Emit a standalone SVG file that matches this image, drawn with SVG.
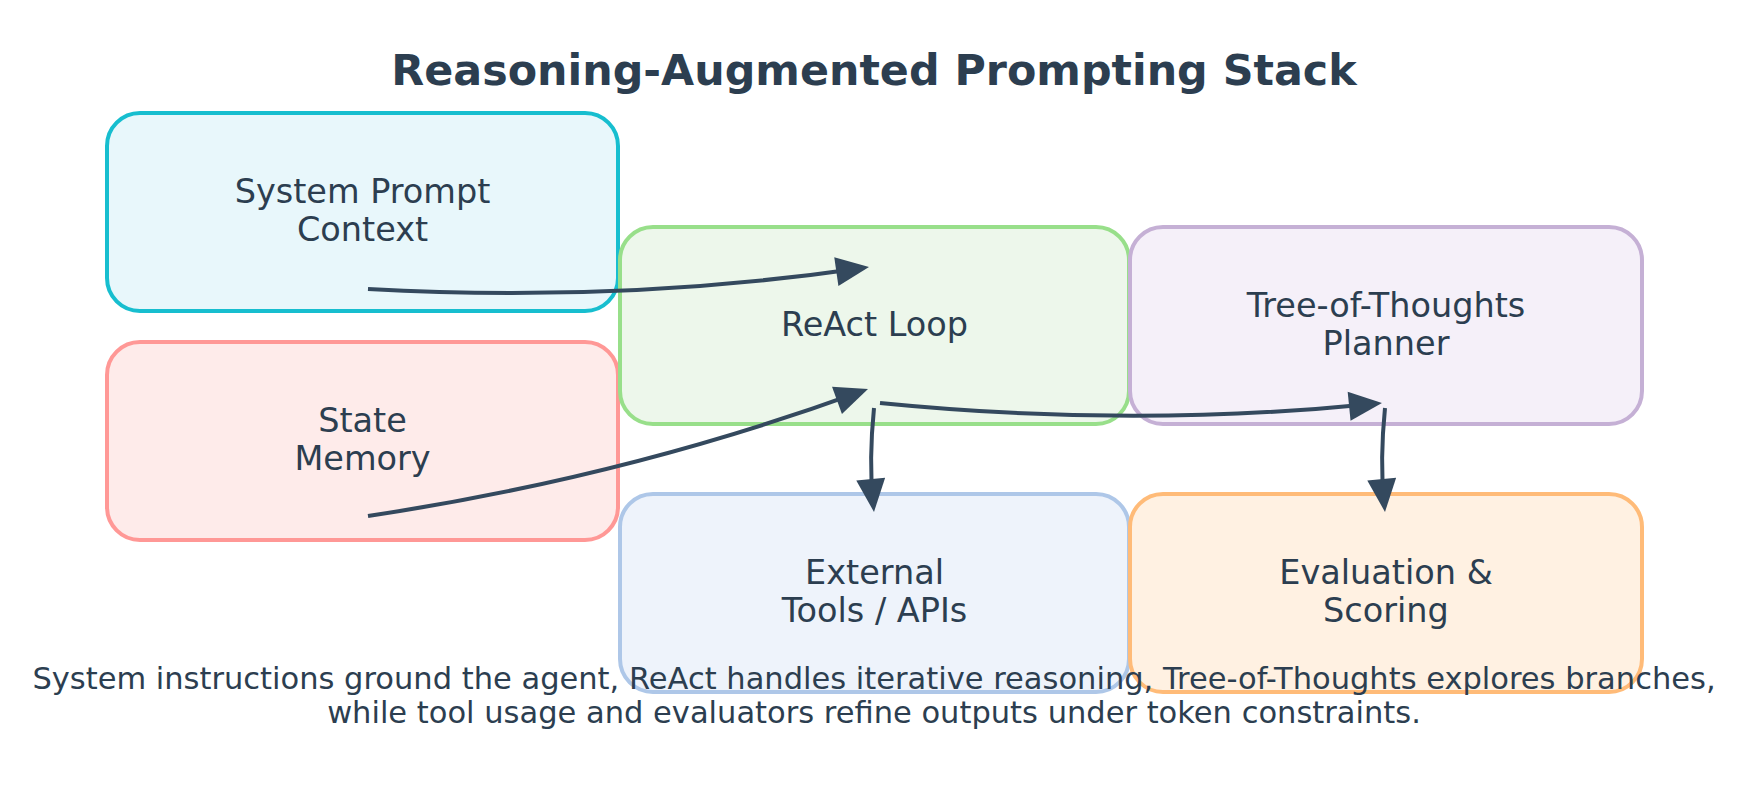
<svg xmlns="http://www.w3.org/2000/svg" width="1748" height="806" viewBox="0 0 1748 806">
<style>
.box{stroke-width:4}
.lbl{font-family:"DejaVu Sans",sans-serif;font-size:33.5px;fill:#2C3E50;text-anchor:middle}
.title{font-family:"DejaVu Sans",sans-serif;font-size:42.8px;font-weight:bold;fill:#2C3E50;text-anchor:middle}
.foot{font-family:"DejaVu Sans",sans-serif;font-size:30.5px;fill:#2C3E50;text-anchor:middle}
.edge{fill:none;stroke:#34495E;stroke-width:4;marker-end:url(#ah)}
</style>
<defs>
<marker id="ah" markerUnits="userSpaceOnUse" markerWidth="33" markerHeight="29" refX="23" refY="14.5" orient="auto" overflow="visible">
<path d="M0,0 L33,14.5 L0,29 Z" fill="#34495E"/>
</marker>
</defs>
<rect width="1748" height="806" fill="#FFFFFF"/>
<text class="title" x="874" y="85">Reasoning-Augmented Prompting Stack</text>
<g id="system-prompt">
<rect class="box" x="107" y="113" width="511" height="198" rx="33" fill="#E8F7FB" stroke="#17BECF"/>
<text class="lbl" x="362.5" y="203">System Prompt</text>
<text class="lbl" x="362.5" y="241">Context</text>
</g>
<g id="state-memory">
<rect class="box" x="107" y="342" width="511" height="198" rx="33" fill="#FEEBEA" stroke="#FF9896"/>
<text class="lbl" x="362.5" y="432">State</text>
<text class="lbl" x="362.5" y="470">Memory</text>
</g>
<g id="react-loop">
<rect class="box" x="620" y="227" width="509" height="197" rx="33" fill="#EDF7EB" stroke="#98DF8A"/>
<text class="lbl" x="874.5" y="336">ReAct Loop</text>
</g>
<g id="tot-planner">
<rect class="box" x="1130" y="227" width="512" height="197" rx="33" fill="#F5F0F9" stroke="#C5B0D5"/>
<text class="lbl" x="1386" y="317">Tree-of-Thoughts</text>
<text class="lbl" x="1386" y="355">Planner</text>
</g>
<g id="external-tools">
<rect class="box" x="620" y="494" width="509" height="198" rx="33" fill="#EEF3FB" stroke="#AEC7E8"/>
<text class="lbl" x="874.5" y="584">External</text>
<text class="lbl" x="874.5" y="622">Tools / APIs</text>
</g>
<g id="evaluation">
<rect class="box" x="1130" y="494" width="512" height="198" rx="33" fill="#FFF1E2" stroke="#FFBB78"/>
<text class="lbl" x="1386" y="584">Evaluation &amp;</text>
<text class="lbl" x="1386" y="622">Scoring</text>
</g>
<g id="connectors">
<path class="edge" d="M368,289 Q619.6,303 859.1,268.4"/>
<path class="edge" d="M368,516 Q624.4,477.5 858.6,392.4"/>
<path class="edge" d="M880,403 Q1131,428.1 1372,404"/>
<path class="edge" d="M874,408 Q868.8,460 873,502"/>
<path class="edge" d="M1385,408 Q1379.8,460 1384,502"/>
</g>
<text class="foot" x="874" y="689">System instructions ground the agent, ReAct handles iterative reasoning, Tree-of-Thoughts explores branches,</text>
<text class="foot" x="874" y="723">while tool usage and evaluators refine outputs under token constraints.</text>
</svg>
